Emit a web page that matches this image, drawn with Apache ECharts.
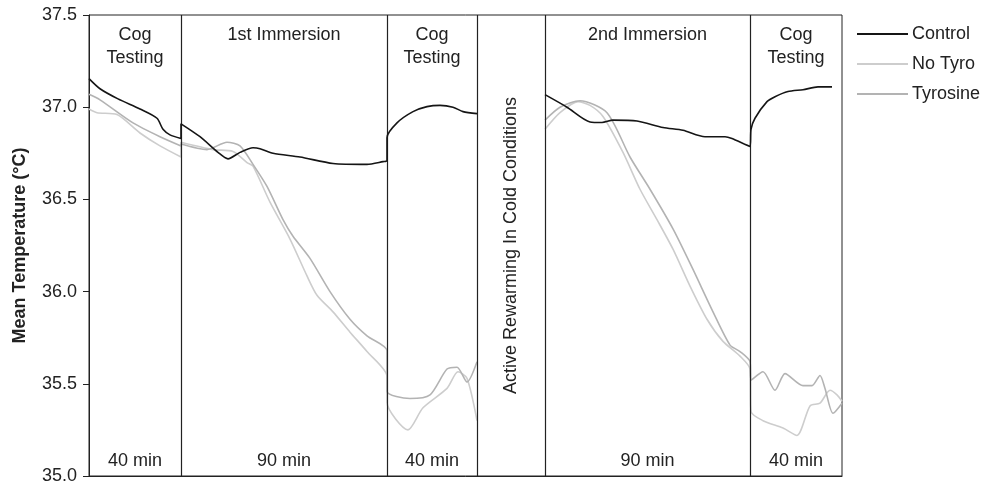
<!DOCTYPE html>
<html>
<head>
<meta charset="utf-8">
<script src="https://cdn.jsdelivr.net/npm/echarts@6/dist/echarts.min.js"></script>
<style>html,body{margin:0;padding:0;background:#fff}#c{width:984px;height:485px}</style>
</head>
<body>
<div id="c"></div>
<script>
// x positions are in arbitrary phase units (0..753); null breaks the line during rewarming
const controlX = [0,11,29,51,68,74,81,92, 92,111,129,139,151,164,171,184,211,244,278,294,298, 298,308,324,338,351,364,374,388, 420, 456,478,501,513,524,548,574,594,616,636,643,661, 662,666,678,686,699,714,729,743];
const controlY = [37.155,37.10,37.045,36.99,36.94,36.88,36.85,36.83, 36.91,36.84,36.755,36.72,36.755,36.78,36.775,36.75,36.73,36.695,36.69,36.705,36.71, 36.835,36.915,36.976,37.003,37.01,37.0,36.976,36.965, null, 37.068,37.0,36.92,36.917,36.93,36.925,36.89,36.875,36.84,36.84,36.83,36.787, 36.88,36.94,37.03,37.057,37.085,37.095,37.11,37.11];

const noTyroX = [0,8,28,51,71,92, 92,124,144,158,164,181,201,218,228,244,261,278,298, 298,319,334,358,369,378,388, 420, 456,471,489,501,514,534,551,568,584,601,618,634,651,661, 662,674,694,708,721,731,741,748,753];
const noTyroY = [36.99,36.97,36.96,36.86,36.79,36.73, 36.81,36.77,36.76,36.70,36.68,36.485,36.285,36.085,35.98,35.89,35.78,35.675,35.54, 35.40,35.25,35.37,35.475,35.565,35.53,35.30, null, 36.88,36.97,37.03,37.01,36.95,36.755,36.555,36.39,36.23,36.03,35.85,35.73,35.65,35.58, 35.35,35.30,35.26,35.22,35.38,35.395,35.465,35.44,35.405];

const tyrosineX = [0,11,44,71,92, 92,118,138,151,164,178,194,204,221,241,261,278,298, 298,321,341,358,368,378,388, 420, 456,471,491,518,541,561,584,604,624,641,651,661, 662,674,686,696,714,723,731,736,744,753];
const tyrosineY = [37.07,37.04,36.915,36.84,36.79, 36.80,36.77,36.81,36.79,36.69,36.57,36.39,36.30,36.18,36.0,35.85,35.76,35.68, 35.46,35.42,35.44,35.58,35.59,35.51,35.62, null, 36.93,37.0,37.035,36.97,36.73,36.555,36.34,36.12,35.89,35.71,35.675,35.62, 35.52,35.565,35.465,35.555,35.49,35.49,35.545,35.475,35.34,35.395];

const phaseBounds = [0,92,298,388,456,661,753];
const phaseNames = ['Cog\nTesting','1st Immersion','Cog\nTesting','Active Rewarming In Cold Conditions','2nd Immersion','Cog\nTesting'];
const phaseDurations = ['40 min','90 min','40 min','','90 min','40 min'];
const yTicks = [35.0,35.5,36.0,36.5,37.0,37.5];

const pairs = (xs, ys) => xs.map((x, i) => [x, ys[i]]);
const FONT = 'Liberation Sans, Arial, sans-serif';
const FS = 18;
const chart = echarts.init(document.getElementById('c'), null, {renderer: 'canvas'});

const dividers = phaseBounds.slice(1, -1).map(b => ({xAxis: b}));

const option = {
  animation: false,
  backgroundColor: '#fff',
  textStyle: {fontFamily: FONT},
  grid: {left: 89, right: 142, top: 15, bottom: 7, show: true, borderColor: '#222', borderWidth: 1, backgroundColor: 'transparent'},
  legend: {
    orient: 'vertical', left: 857, top: 25, padding: 0, icon: 'rect', itemWidth: 51, itemHeight: 2, itemGap: 12,
    textStyle: {fontSize: FS, color: '#222', fontFamily: FONT, padding: [0, 0, 0, -1]},
    data: ['Control', 'No Tyro', 'Tyrosine']
  },
  xAxis: {
    type: 'value', min: 0, max: 753,
    axisLine: {show: true, lineStyle: {color: '#222'}},
    axisTick: {show: false}, axisLabel: {show: false}, splitLine: {show: false}
  },
  yAxis: {
    type: 'value', min: yTicks[0], max: yTicks[yTicks.length - 1], interval: 0.5,
    name: 'Mean Temperature (°C)', nameLocation: 'middle', nameGap: 60,
    nameTextStyle: {fontSize: FS, fontWeight: 'bold', color: '#222', fontFamily: FONT},
    axisLine: {show: true, lineStyle: {color: '#222'}},
    axisTick: {show: true, length: 6, lineStyle: {color: '#222'}},
    axisLabel: {fontSize: FS, color: '#222', margin: 12, formatter: v => v.toFixed(1)},
    splitLine: {show: false}
  },
  series: [
    {name: 'Control', type: 'line', data: pairs(controlX, controlY), symbol: 'none', smooth: 0.25,
     connectNulls: false, lineStyle: {color: '#151515', width: 1.6}, itemStyle: {color: '#151515'}, z: 5,
     markLine: {silent: true, symbol: 'none', label: {show: false}, lineStyle: {color: '#222', width: 1.2, type: 'solid'}, data: dividers}},
    {name: 'No Tyro', type: 'line', data: pairs(noTyroX, noTyroY), symbol: 'none', smooth: 0.25,
     connectNulls: false, lineStyle: {color: '#cdcdcd', width: 1.6}, itemStyle: {color: '#cdcdcd'}, z: 3},
    {name: 'Tyrosine', type: 'line', data: pairs(tyrosineX, tyrosineY), symbol: 'none', smooth: 0.25,
     connectNulls: false, lineStyle: {color: '#b3b3b3', width: 1.6}, itemStyle: {color: '#b3b3b3'}, z: 4}
  ]
};
chart.setOption(option);

// phase annotations positioned through the axes
const graphics = [];
for (let i = 0; i < phaseNames.length; i++) {
  const mid = (phaseBounds[i] + phaseBounds[i + 1]) / 2;
  if (i === 3) {
    const p = chart.convertToPixel({gridIndex: 0}, [mid, 36.25]);
    graphics.push({type: 'text', x: p[0], y: p[1], rotation: Math.PI / 2,
      style: {text: phaseNames[i], fill: '#222', font: FS + 'px ' + FONT, align: 'center', verticalAlign: 'middle'}});
    continue;
  }
  const top = chart.convertToPixel({gridIndex: 0}, [mid, 37.5]);
  graphics.push({type: 'text', x: top[0], y: top[1] + 9,
    style: {text: phaseNames[i], fill: '#222', font: FS + 'px ' + FONT, lineHeight: 23, align: 'center', verticalAlign: 'top'}});
  const bot = chart.convertToPixel({gridIndex: 0}, [mid, 35.0]);
  graphics.push({type: 'text', x: bot[0], y: bot[1] - 15,
    style: {text: phaseDurations[i], fill: '#222', font: FS + 'px ' + FONT, align: 'center', verticalAlign: 'middle'}});
}
chart.setOption({graphic: graphics});
</script>
</body>
</html>
